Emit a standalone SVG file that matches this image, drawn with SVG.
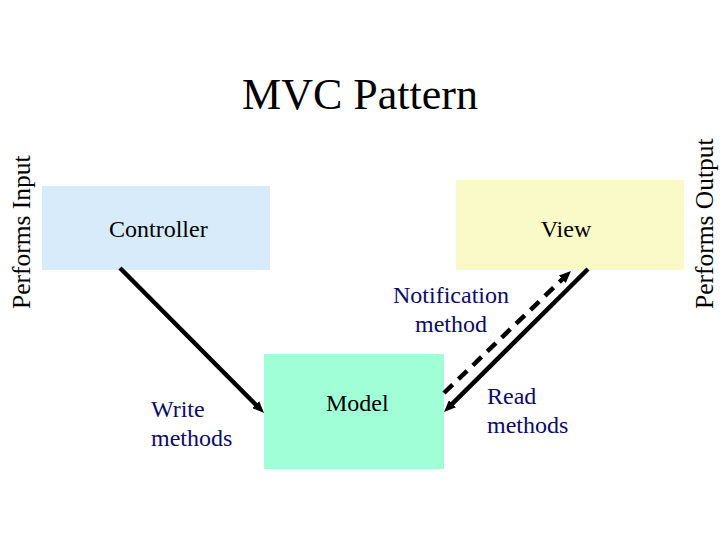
<svg xmlns="http://www.w3.org/2000/svg" width="720" height="540" viewBox="0 0 720 540">
  <style>
    text { font-family: "Liberation Serif", "Times New Roman", serif; }
    .title { font-size: 44px; fill: #000; text-anchor: middle; }
    .node { font-size: 24px; fill: #000; }
    .lbl { font-size: 24px; fill: #0C0C66; }
    .side { font-size: 25.5px; fill: #000; }
    .conn { stroke: #000; stroke-width: 4.5; fill: none; }
    .dash { stroke-dasharray: 12 8; }
  </style>
  <defs>
    <marker id="ah" markerUnits="userSpaceOnUse" markerWidth="12" markerHeight="10" refX="4" refY="5" orient="auto">
      <path d="M0,0 L12,5 L0,10 z" fill="#000"/>
    </marker>
  </defs>
  <rect width="720" height="540" fill="#fff"/>
  <text class="title" x="360" y="109">MVC Pattern</text>
  <text class="side" transform="translate(30,309) rotate(-90)">Performs Input</text>
  <text class="side" transform="translate(713,309) rotate(-90)">Performs Output</text>
  <g id="controller">
    <rect x="42" y="186" width="228" height="84" fill="#D7EBFA"/>
    <text class="node" x="109" y="237">Controller</text>
  </g>
  <g id="view">
    <rect x="456" y="180" width="228" height="90" fill="#FAFAC8"/>
    <text class="node" x="566" y="237" text-anchor="middle">View</text>
  </g>
  <g id="model">
    <rect x="264" y="354" width="180" height="115" fill="#A0FFD7"/>
    <text class="node" x="326" y="411">Model</text>
  </g>
  <g id="connectors">
    <line class="conn" x1="120" y1="268" x2="258.4" y2="407.3" marker-end="url(#ah)"/>
    <line class="conn" x1="588" y1="269" x2="449.7" y2="406.4" marker-end="url(#ah)"/>
    <line class="conn dash" x1="444" y1="393" x2="565.2" y2="276.5" marker-end="url(#ah)"/>
  </g>
  <g id="labels">
    <text class="lbl" x="451" y="303" text-anchor="middle">Notification</text>
    <text class="lbl" x="451" y="332" text-anchor="middle">method</text>
    <text class="lbl" x="151" y="417">Write</text>
    <text class="lbl" x="151" y="446">methods</text>
    <text class="lbl" x="487" y="404">Read</text>
    <text class="lbl" x="487" y="433">methods</text>
  </g>
</svg>
